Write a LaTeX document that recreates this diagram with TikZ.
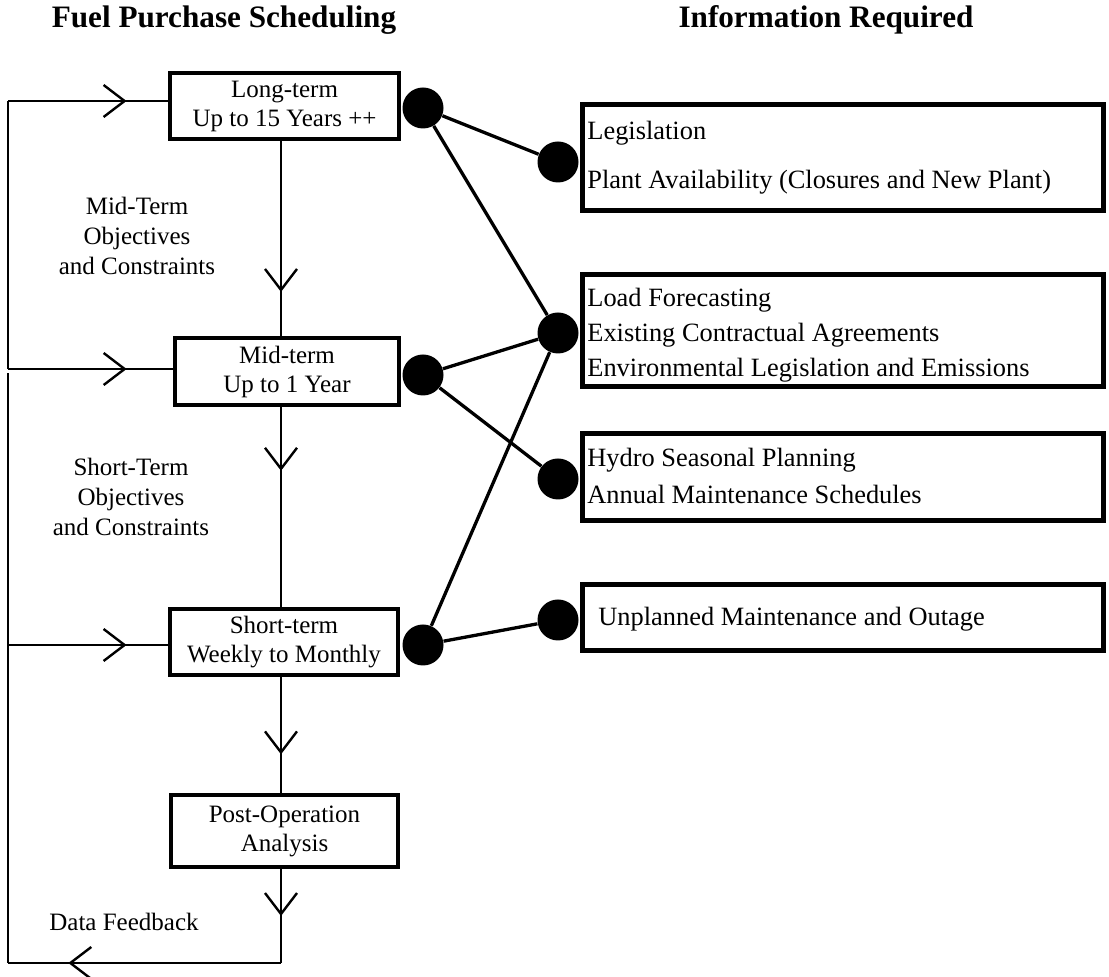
\documentclass[tikz,border=0pt]{standalone}
\usepackage{fontspec}
\setmainfont{Liberation Serif}
\usetikzlibrary{arrows.meta,decorations.markings}
\begin{document}
\begin{tikzpicture}[x=0.5pt,y=-0.5pt,
  flowbox/.style={draw,line width=2pt,align=center,inner sep=0pt,font=\fontsize{12.5pt}{14.5pt}\selectfont},
  infobox/.style={draw,line width=2.4pt,inner sep=0pt,minimum width=260.5pt},
  infotext/.style={anchor=west,inner sep=0pt,font=\fontsize{13.2pt}{15pt}\selectfont,text height=0.7em,text depth=0.2em},
  sidetext/.style={align=center,inner sep=0pt,font=\fontsize{12.5pt}{15.2pt}\selectfont},
  headtext/.style={inner sep=0pt,font=\bfseries\fontsize{15.6pt}{18pt}\selectfont},
  dot/.style={circle,fill=black,inner sep=0pt,minimum size=20.5pt},
  link/.style={line width=1.65pt},
  flow/.style={line width=1.15pt},
  flowarrow/.style={postaction={decorate},decoration={markings,mark=at position #1 with {\arrow{Straight Barb[length=10.5pt,width=16pt,line width=1.2pt]}}}},
]
\useasboundingbox (0,0) rectangle (1109,977);

% titles
\node[headtext] (h1) at (224,20) {Fuel Purchase Scheduling};
\node[headtext] (h2) at (826,20) {Information Required};

% left boxes
\node[flowbox,minimum width=114.5pt,minimum height=33pt] (long) at (284.5,106) {Long-term\\Up to 15 Years ++};
\node[flowbox,minimum width=112pt,minimum height=33.5pt] (mid) at (287,371.5) {Mid-term\\Up to 1 Year};
\node[flowbox,minimum width=114pt,minimum height=33pt] (short) at (284,642) {Short-term\\Weekly to Monthly};
\node[flowbox,minimum width=113.5pt,minimum height=36pt] (post) at (284.5,831) {Post-Operation\\Analysis};

% side labels
\node[sidetext] (midlab) at (137,236) {Mid-Term\\Objectives\\and Constraints};
\node[sidetext] (shortlab) at (131,497) {Short-Term\\Objectives\\and Constraints};
\node[sidetext] (fblab) at (124,922) {Data Feedback};

% right boxes
\node[infobox,minimum height=53pt] (b1) at (843,157.5) {};
\node[infobox,minimum height=56pt] (b2) at (843,330.5) {};
\node[infobox,minimum height=43.5pt] (b3) at (843,477) {};
\node[infobox,minimum height=33pt] (b4) at (843,617.5) {};

\node[infotext] (t11) at (587,135) {Legislation};
\node[infotext] (t12) at (587,184) {Plant Availability (Closures and New Plant)};
\node[infotext] (t21) at (587,302) {Load Forecasting};
\node[infotext] (t22) at (587,337) {Existing Contractual Agreements};
\node[infotext] (t23) at (587,372) {Environmental Legislation and Emissions};
\node[infotext] (t31) at (587,462) {Hydro Seasonal Planning};
\node[infotext] (t32) at (587,499) {Annual Maintenance Schedules};
\node[infotext] (t41) at (598,621) {Unplanned Maintenance and Outage};

% dots
\node[dot] (dlong) at (423,108) {};
\node[dot] (dmid) at (423,375) {};
\node[dot] (dshort) at (423,645) {};
\node[dot] (dleg) at (558,162) {};
\node[dot] (dload) at (558,333) {};
\node[dot] (dhydro) at (558,479) {};
\node[dot] (dunpl) at (558,620) {};

% links
\draw[link] (dlong) -- (dleg);
\draw[link] (dlong) -- (dload);
\draw[link] (dmid) -- (dload);
\draw[link] (dmid) -- (dhydro);
\draw[link] (dshort) -- (dload);
\draw[link] (dshort) -- (dunpl);

% flow
\coordinate (vx) at (281,0);
\draw[flow,flowarrow=0.774] (vx |- long.south) -- (vx |- mid.north);
\draw[flow,flowarrow=0.319] (vx |- mid.south) -- (vx |- short.north);
\draw[flow,flowarrow=0.667] (vx |- short.south) -- (vx |- post.north);
\coordinate (fb1) at (281,963);
\coordinate (fb2) at (8,963);
\coordinate (fb3) at (8,373);
\coordinate (br3) at (8,645);
\coordinate (t1) at (8,101);
\coordinate (t2) at (8,369);
\draw[flow,flowarrow=0.5] (vx |- post.south) -- (fb1);
\draw[flow,flowarrow=0.779] (fb1) -- (fb2);
\draw[flow] (fb2) -- (fb3);
\draw[flow,flowarrow=0.741] (br3) -- (br3 -| short.west);
\draw[flow] (t2) -- (t1);
\draw[flow,flowarrow=0.741] (t1) -- (t1 -| long.west);
\draw[flow,flowarrow=0.719] (t2) -- (t2 -| mid.west);
\end{tikzpicture}
\end{document}
